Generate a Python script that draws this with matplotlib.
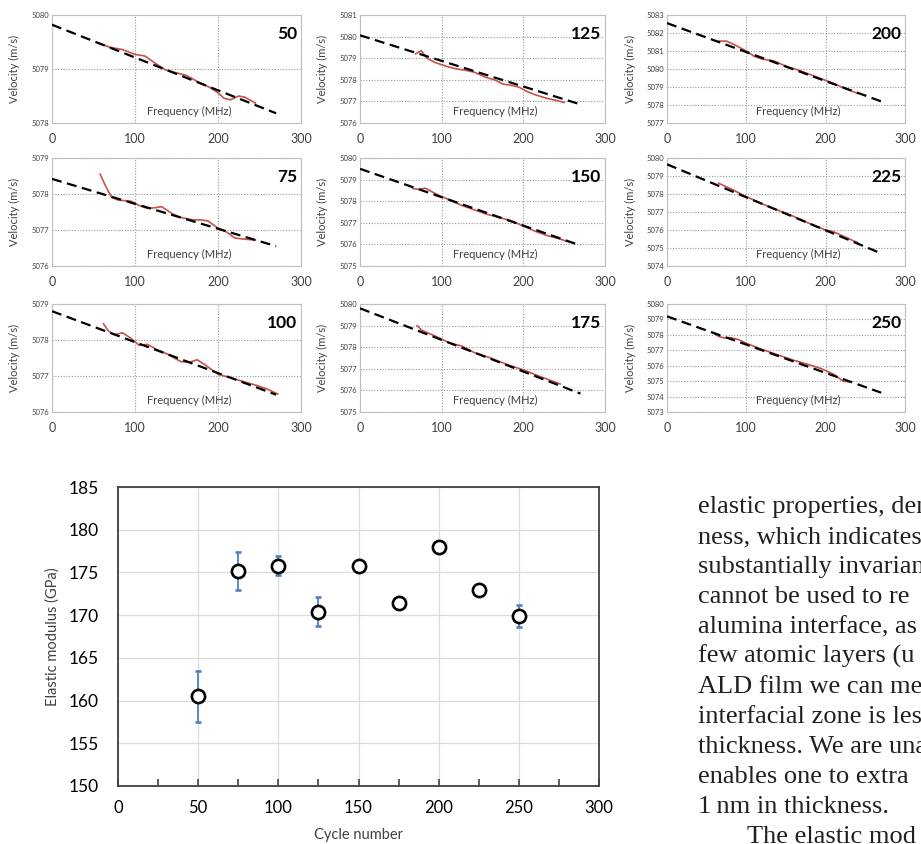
import matplotlib
matplotlib.use("Agg")
import matplotlib.pyplot as plt

W, H = 921, 844

# --- dispersion panels: measured velocity (red) and linear fit (dashed) ---
freq_50 = [58, 70, 85, 100, 112, 125, 137, 150, 162, 175, 190, 200, 207, 215, 225, 232, 245]
vel_50 = [5079.47, 5079.40, 5079.36, 5079.27, 5079.24, 5079.10, 5078.98, 5078.93, 5078.88,
          5078.77, 5078.66, 5078.56, 5078.46, 5078.43, 5078.50, 5078.48, 5078.37]
fit_50 = [5079.82, 5078.18]

freq_125 = [68, 75, 82, 92, 108, 118, 128, 140, 155, 165, 175, 185, 195, 205, 215, 228, 240, 250]
vel_125 = [5079.20, 5079.35, 5079.00, 5078.80, 5078.60, 5078.50, 5078.45, 5078.35, 5078.10,
           5078.00, 5077.80, 5077.75, 5077.65, 5077.45, 5077.30, 5077.15, 5077.05, 5076.95]
fit_125 = [5080.06, 5076.86]

freq_200 = [65, 75, 85, 100, 110, 120, 135, 150, 165, 180, 195, 210, 225, 240]
vel_200 = [5081.55, 5081.55, 5081.35, 5081.00, 5080.70, 5080.55, 5080.45, 5080.15, 5079.95,
           5079.70, 5079.45, 5079.20, 5078.90, 5078.65]
fit_200 = [5082.55, 5078.20]

freq_75 = [58, 65, 72, 80, 95, 105, 115, 125, 132, 145, 155, 170, 180, 188, 200, 210, 220, 230, 245]
vel_75 = [5078.55, 5078.20, 5077.90, 5077.83, 5077.80, 5077.68, 5077.60, 5077.62, 5077.65,
          5077.45, 5077.35, 5077.28, 5077.28, 5077.25, 5077.05, 5076.95, 5076.78, 5076.75, 5076.72]
fit_75 = [5078.42, 5076.55]

freq_150 = [65, 72, 80, 85, 95, 110, 125, 140, 155, 170, 185, 200, 215, 230, 245, 255]
vel_150 = [5078.58, 5078.55, 5078.60, 5078.50, 5078.30, 5078.05, 5077.80, 5077.60, 5077.40,
           5077.25, 5077.10, 5076.85, 5076.60, 5076.40, 5076.25, 5076.12]
fit_150 = [5079.50, 5075.95]

freq_225 = [65, 80, 100, 120, 140, 160, 180, 200, 210, 225, 240]
vel_225 = [5078.60, 5078.30, 5077.85, 5077.45, 5077.10, 5076.75, 5076.35, 5076.00, 5075.90,
           5075.60, 5075.30]
fit_225 = [5079.65, 5074.70]

freq_100 = [62, 68, 75, 85, 95, 105, 115, 125, 140, 155, 165, 175, 185, 200, 215, 230, 245, 258, 272]
vel_100 = [5078.45, 5078.25, 5078.15, 5078.20, 5078.05, 5077.85, 5077.88, 5077.75, 5077.60,
           5077.40, 5077.38, 5077.45, 5077.30, 5077.05, 5076.95, 5076.85, 5076.75, 5076.65, 5076.50]
fit_100 = [5078.80, 5076.48]

freq_175 = [70, 75, 90, 110, 125, 140, 160, 180, 200, 220, 245]
vel_175 = [5079.00, 5078.80, 5078.55, 5078.20, 5078.05, 5077.75, 5077.50, 5077.20, 5076.95,
           5076.65, 5076.30]
fit_175 = [5079.80, 5075.85]

freq_250 = [58, 65, 72, 80, 90, 100, 120, 140, 160, 180, 195, 210, 222, 232]
vel_250 = [5078.15, 5077.90, 5077.80, 5077.82, 5077.70, 5077.45, 5077.05, 5076.70, 5076.35,
           5076.05, 5075.80, 5075.45, 5075.00, 5074.95]
fit_250 = [5079.20, 5074.25]

fit_freq = [0, 270]

# --- elastic modulus vs ALD cycle number ---
cycles = [50, 75, 100, 125, 150, 175, 200, 225, 250]
modulus = [160.5, 175.2, 175.8, 170.4, 175.7, 171.4, 178.0, 172.9, 169.9]
modulus_err = [3.0, 2.2, 1.1, 1.7, 0.6, 0.2, 0.6, 0.2, 1.3]

text_lines = [
    "elastic properties, den",
    "ness, which indicates",
    "substantially invarian",
    "cannot be used to re",
    "alumina interface, as",
    "few atomic layers (u",
    "ALD film we can me",
    "interfacial zone is les",
    "thickness. We are una",
    "enables one to extra",
    "1\u2009nm in thickness.",
    "The elastic mod",
]

plt.rcParams["font.family"] = ["Lato", "DejaVu Sans"]

fig = plt.figure(figsize=(W / 100, H / 100), dpi=100)


def px_axes(left, top, right, bottom):
    """Axes from pixel box of the 921x844 canvas."""
    return fig.add_axes([left / W, 1 - bottom / H, (right - left) / W, (bottom - top) / H])


def draw_panel(ax, label, ylim, freq, vel, fit):
    ax.set_xlim(0, 300)
    ax.set_ylim(*ylim)
    ax.set_xticks([0, 100, 200, 300])
    ax.set_yticks(range(ylim[0], ylim[1] + 1))
    ax.grid(True, ls=(0, (1, 1.5)), color="#9a9a9a", lw=0.8)
    ax.set_axisbelow(True)
    ax.plot(freq, vel, color="#c8504d", lw=1.2, zorder=2)
    ax.plot(fit_freq, fit, color="black", ls=(0, (4.5, 2.5)), lw=1.6, zorder=3)
    for s in ax.spines.values():
        s.set_color("#bfbfbf")
        s.set_linewidth(0.8)
    ax.tick_params(length=0)
    ax.tick_params(axis="x", labelsize=9, pad=7, colors="#404040")
    ax.tick_params(axis="y", labelsize=5.5, pad=2, colors="#404040")
    ax.set_ylabel("Velocity (m/s)", fontsize=8, color="#404040")
    ax.yaxis.set_label_coords(-0.13, 0.5)
    ax.text(0.55, 0.06, "Frequency (MHz)", transform=ax.transAxes, fontsize=8,
            ha="center", va="bottom", color="#404040")
    ax.text(0.985, 0.9, label, transform=ax.transAxes, fontsize=12.5, fontweight="bold",
            ha="right", va="top")


panels = [
    ("50", (5078, 5080), freq_50, vel_50, fit_50),
    ("125", (5076, 5081), freq_125, vel_125, fit_125),
    ("200", (5077, 5083), freq_200, vel_200, fit_200),
    ("75", (5076, 5079), freq_75, vel_75, fit_75),
    ("150", (5075, 5080), freq_150, vel_150, fit_150),
    ("225", (5074, 5080), freq_225, vel_225, fit_225),
    ("100", (5076, 5079), freq_100, vel_100, fit_100),
    ("175", (5075, 5080), freq_175, vel_175, fit_175),
    ("250", (5073, 5080), freq_250, vel_250, fit_250),
]

col_box = [(52, 301), (360, 605), (667, 905)]
row_top = [15, 158, 304]
for i, (label, ylim, freq, vel, fit) in enumerate(panels):
    r, c = divmod(i, 3)
    ax = px_axes(col_box[c][0], row_top[r], col_box[c][1], row_top[r] + 108)
    draw_panel(ax, label, ylim, freq, vel, fit)

# --- bottom chart ---
ax = px_axes(118, 487, 599, 786)
ax.errorbar(cycles, modulus, yerr=modulus_err, fmt="o", ms=9.5, mfc="white", mec="black",
            mew=1.9, ecolor="#4f81bd", elinewidth=1.3, capsize=2.5, capthick=1.3, zorder=3)
ax.set_xlim(0, 300)
ax.set_ylim(150, 185)
ax.set_xticks(range(0, 301, 50))
ax.set_xticks(range(25, 300, 50), minor=True)
ax.set_yticks(range(150, 186, 5))
ax.grid(True, color="#dcdcdc", lw=0.9)
ax.set_axisbelow(True)
for s in ax.spines.values():
    s.set_color("#404040")
    s.set_linewidth(1.3)
ax.tick_params(axis="x", which="both", direction="in", length=5, width=1.2,
               color="#404040", labelsize=12, pad=10)
ax.tick_params(axis="y", length=0, labelsize=12.5, pad=14)
ax.set_xlabel("Cycle number", fontsize=10.5, color="#404040", labelpad=9)
ax.set_ylabel("Elastic modulus (GPa)", fontsize=10.5, color="#404040", labelpad=6)

# --- running text of the page, clipped by the right edge as in the source ---
for k, line in enumerate(text_lines):
    x = 747 if line.startswith("The") else 698
    fig.text(x / W, 1 - (513 + 30 * k) / H, line, family="Liberation Serif",
             fontsize=19, color="#231f20", va="baseline", ha="left")

fig.savefig("out.png", dpi=100)
